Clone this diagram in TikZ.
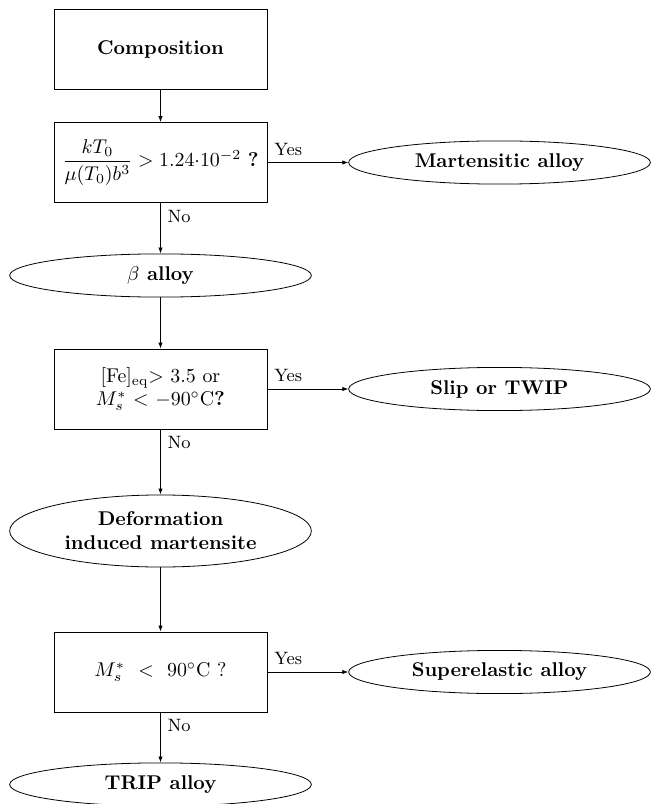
\documentclass[tikz,border=0pt]{standalone}
\usepackage{amsmath}
\usetikzlibrary{shapes.geometric,arrows.meta}
\begin{document}
\begin{tikzpicture}[x=0.5025pt,y=-0.5025pt,
  decision/.style={draw,rectangle,minimum width=107pt,minimum height=40.2pt,inner sep=2pt,align=center},
  outcome/.style={draw,ellipse,minimum width=151.6pt,minimum height=21.7pt,inner sep=1pt,align=center,font=\bfseries},
  flow/.style={-{Latex[length=3pt,width=2.2pt]}},
  lab/.style={font=\small,inner sep=3.33pt}]
\useasboundingbox (0,0) rectangle (651,804);
\node[decision] (comp) at (160.5,49) {\textbf{Composition}};
\node[decision] (q1) at (160.5,162.5) {$\dfrac{kT_0}{\mu(T_0)b^3} > 1.24{\cdot}10^{-2}$ \textbf{?}};
\node[outcome] (mart) at (499.5,162.5) {Martensitic alloy};
\node[outcome] (beta) at (160.5,275.5) {$\beta$ alloy};
\node[decision] (q2) at (160.5,389) {[Fe]$_{\mathrm{eq}}$$>$\ 3.5 or\\ $M_s^*$\ $<$\ $-90^\circ$C\textbf{?}};
\node[outcome] (slip) at (499.5,389) {Slip or TWIP};
\node[outcome,minimum height=36.2pt] (def) at (160.5,531) {Deformation\\induced martensite};
\node[decision] (q3) at (160.5,672) {$M_s^*$\ \ $<$\ \ 90$^\circ$C ?};
\node[outcome] (super) at (499.5,672) {Superelastic alloy};
\node[outcome] (trip) at (160.5,784.5) {TRIP alloy};
\draw[flow] (comp) -- (q1);
\draw[flow] (q1) -- node[lab,pos=0,anchor=north west] {No} (beta);
\draw[flow] (q1) -- node[lab,pos=0,anchor=south west] {Yes} (mart);
\draw[flow] (beta) -- (q2);
\draw[flow] (q2) -- node[lab,pos=0,anchor=north west] {No} (def);
\draw[flow] (q2) -- node[lab,pos=0,anchor=south west] {Yes} (slip);
\draw[flow] (def) -- (q3);
\draw[flow] (q3) -- node[lab,pos=0,anchor=north west] {No} (trip);
\draw[flow] (q3) -- node[lab,pos=0,anchor=south west] {Yes} (super);
\end{tikzpicture}
\end{document}
